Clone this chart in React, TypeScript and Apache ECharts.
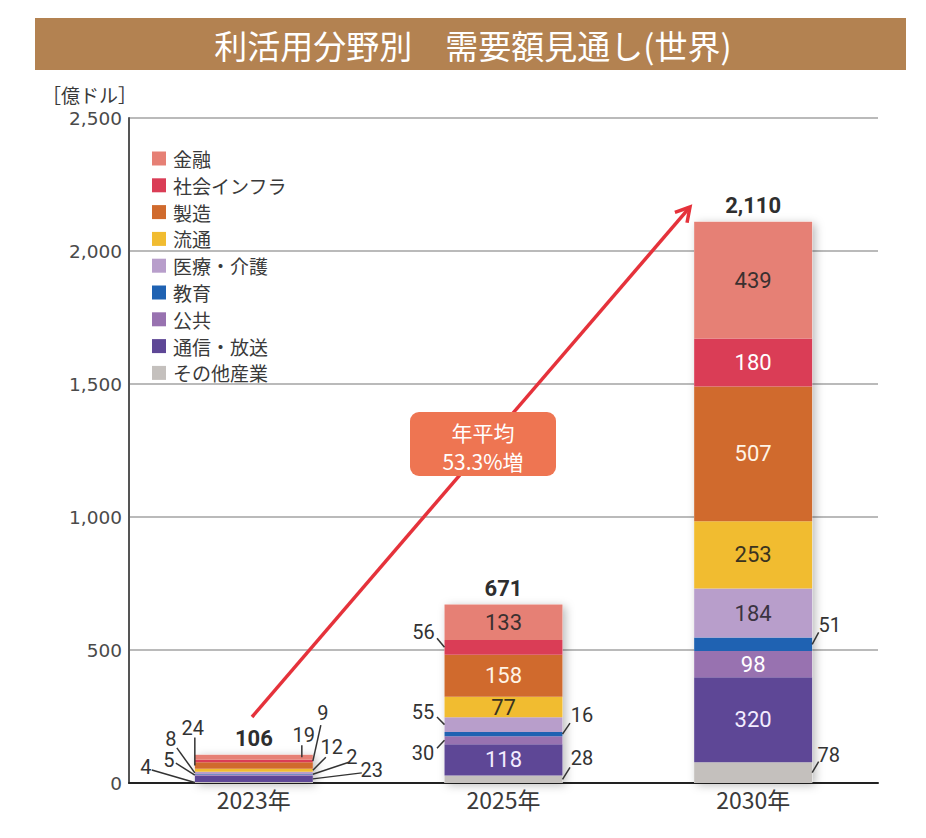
import React, { useEffect, useRef } from 'react';
import * as echarts from 'echarts';

// ---- data ----
const categories = ['2023年', '2025年', '2030年'];
const legendOrder = ['金融', '社会インフラ', '製造', '流通', '医療・介護', '教育', '公共', '通信・放送', 'その他産業'];
const finance = [19, 133, 439];
const socialInfra = [9, 56, 180];
const manufacturing = [24, 158, 507];
const distribution = [12, 77, 253];
const medicalCare = [8, 55, 184];
const education = [2, 16, 51];
const publicSector = [5, 30, 98];
const telecom = [23, 118, 320];
const otherIndustry = [4, 28, 78];
const yTickMin = 0;
const yTickMax = 2500;
const yTickStep = 500;
const growthLines = ['年平均', '53.3%増'];
const titleText = '利活用分野別　需要額見通し(世界)';
const unitText = '［億ドル］';

// ---- series (bottom to top) with styles ----
const stackSeries = [
  { name: 'その他産業', data: otherIndustry, color: '#c4c0bd', labelColor: '#333' },
  { name: '通信・放送', data: telecom, color: '#5e4796', labelColor: '#f3ecff' },
  { name: '公共', data: publicSector, color: '#9872b0', labelColor: '#ffffff' },
  { name: '教育', data: education, color: '#1f62b2', labelColor: '#ffffff' },
  { name: '医療・介護', data: medicalCare, color: '#b89ecb', labelColor: '#3a3340' },
  { name: '流通', data: distribution, color: '#f1bc30', labelColor: '#3a3320' },
  { name: '製造', data: manufacturing, color: '#d06a2d', labelColor: '#fff4e6' },
  { name: '社会インフラ', data: socialInfra, color: '#da3d56', labelColor: '#ffffff' },
  { name: '金融', data: finance, color: '#e68075', labelColor: '#3a3030' },
];

// outside label layout (offsets relative to the bar-edge anchor)
const outsideLabels = [
  { cat: 0, s: 'その他産業', side: 'left', ax: 0, tx: -49, ty: -15.5, lx: -43, ly: -12.5 },
  { cat: 0, s: '公共', side: 'left', ax: 0, tx: -26, ty: -15, lx: -19, ly: -12 },
  { cat: 0, s: '医療・介護', side: 'left', ax: 0, tx: -24, ty: -34, lx: -18, ly: -25 },
  { cat: 0, s: '製造', side: 'left', ax: 0, tx: -2, ty: -37, lx: 0, ly: -28 },
  { cat: 0, s: '金融', side: 'right', ax: -11, tx: 2, ty: -22, lx: 0, ly: -12 },
  { cat: 0, s: '社会インフラ', side: 'right', ax: 0, tx: 10, ty: -48, lx: 8, ly: -36 },
  { cat: 0, s: '流通', side: 'right', ax: 0, tx: 19, ty: -23, lx: 13, ly: -13 },
  { cat: 0, s: '教育', side: 'right', ax: 0, tx: 39, ty: -17, lx: 36, ly: -12 },
  { cat: 0, s: '通信・放送', side: 'right', ax: 0, tx: 59, ty: -9, lx: 49, ly: -6 },
  { cat: 1, s: '社会インフラ', side: 'left', ax: 0, tx: -21, ty: -15, lx: -7.5, ly: -9 },
  { cat: 1, s: '医療・介護', side: 'left', ax: 0, tx: -21.5, ty: -12.6, lx: -7.5, ly: -7.6 },
  { cat: 1, s: '公共', side: 'left', ax: 0, tx: -21.5, ty: 13, lx: -7.5, ly: 8 },
  { cat: 1, s: '教育', side: 'right', ax: 0, tx: 19.5, ty: -19, lx: 7.5, ly: -11 },
  { cat: 1, s: 'その他産業', side: 'right', ax: 0, tx: 19.5, ty: -21, lx: 7.5, ly: -12 },
  { cat: 2, s: '教育', side: 'right', ax: 0, tx: 17.5, ty: -19, lx: 6.5, ly: -12 },
  { cat: 2, s: 'その他産業', side: 'right', ax: 0, tx: 16.5, ty: -18, lx: 6.5, ly: -11 },
];

const BAR_W = 118;
const NUM_FONT = 'Roboto, "Noto Sans", sans-serif';
const JP_FONT = '"Noto Sans CJK JP", "Noto Sans", sans-serif';

const totals = categories.map((_, i) => stackSeries.reduce((a, s) => a + s.data[i], 0));
const isOutside = (cat: number, name: string) => outsideLabels.some((o) => o.cat === cat && o.s === name);

export default function App() {
  const ref = useRef<HTMLDivElement>(null);
  useEffect(() => {
    document.body.style.margin = '0';
    const chart = echarts.init(ref.current!, null, { renderer: 'svg' });

    const series: any[] = [
      {
        name: '合計',
        type: 'bar',
        data: totals,
        barWidth: BAR_W,
        barGap: '-100%',
        z: 1,
        itemStyle: { color: '#ffffff', shadowBlur: 10, shadowColor: 'rgba(0,0,0,0.28)', shadowOffsetX: 3, shadowOffsetY: 2 },
        label: {
          show: true,
          position: 'top',
          distance: 5,
          formatter: (p: any) => Number(p.value).toLocaleString('en-US'),
          fontFamily: NUM_FONT,
          fontWeight: 'bold',
          fontSize: 22,
          color: '#2e2e2e',
        },
        emphasis: { disabled: true },
      },
      ...stackSeries.map((s) => ({
        name: s.name,
        type: 'bar',
        stack: 'total',
        barWidth: BAR_W,
        barGap: '-100%',
        z: 2,
        itemStyle: { color: s.color },
        data: s.data.map((v, i) => ({
          value: v,
          label: { show: !isOutside(i, s.name) && i !== 0 },
        })),
        label: {
          position: 'inside',
          fontFamily: NUM_FONT,
          fontSize: 22,
          color: s.labelColor,
        },
        emphasis: { disabled: true },
      })),
    ];

    const option: any = {
      animation: false,
      grid: { left: 129, right: 48, top: 118, bottom: 55, containLabel: false },
      legend: {
        data: legendOrder,
        orient: 'vertical',
        left: 147,
        top: 144,
        icon: 'rect',
        itemWidth: 14,
        itemHeight: 14,
        itemGap: 7.8,
        selectedMode: false,
        textStyle: { fontFamily: JP_FONT, fontSize: 19, color: '#3a3a3a', padding: [0, 0, 0, 2] },
      },
      xAxis: {
        type: 'category',
        data: categories,
        axisLine: { lineStyle: { color: '#222', width: 2 } },
        axisTick: { show: false },
        axisLabel: { fontFamily: JP_FONT, fontSize: 23, color: '#3a3a3a', margin: 4 },
      },
      yAxis: {
        type: 'value',
        min: yTickMin,
        max: yTickMax,
        interval: yTickStep,
        axisLine: { show: true, lineStyle: { color: '#555', width: 2 } },
        axisTick: { show: false },
        splitLine: { lineStyle: { color: '#a3a3a3', width: 1.5 } },
        axisLabel: {
          fontFamily: '"DejaVu Sans", sans-serif',
          fontSize: 18.5,
          color: '#4a4a4a',
          margin: 7,
          formatter: (v: number) => v.toLocaleString('en-US'),
        },
      },
      series,
    };
    chart.setOption(option);

    const graphics: any[] = [];
    // title bar
    graphics.push({ type: 'rect', shape: { x: 35, y: 18, width: 871, height: 52 }, style: { fill: '#b38251' }, z: 50 });
    graphics.push({
      type: 'text', z: 51,
      style: { text: titleText, x: 473, y: 45, align: 'center', verticalAlign: 'middle', fill: '#ffffff', fontSize: 33, fontFamily: JP_FONT },
    });
    graphics.push({
      type: 'text', z: 51,
      style: { text: unitText, x: 42, y: 94, align: 'left', verticalAlign: 'middle', fill: '#3a3a3a', fontSize: 19, fontFamily: JP_FONT },
    });

    // arrow
    const sx = 252, sy = 717, ex = 690, ey = 207;
    const len = Math.hypot(ex - sx, ey - sy);
    const ux = (ex - sx) / len, uy = (ey - sy) / len;
    const rx = -ux, ry = -uy;
    const hl = 16, c = Math.cos(Math.PI / 6), s = Math.sin(Math.PI / 6);
    const h1 = [ex + hl * (rx * c - ry * s), ey + hl * (rx * s + ry * c)];
    const h2 = [ex + hl * (rx * c + ry * s), ey + hl * (-rx * s + ry * c)];
    graphics.push({ type: 'line', z: 60, shape: { x1: sx, y1: sy, x2: ex - ux * 1.5, y2: ey - uy * 1.5 }, style: { stroke: '#e5323b', lineWidth: 3.5 } });
    graphics.push({ type: 'polyline', z: 60, shape: { points: [h1, [ex, ey], h2] }, style: { stroke: '#e5323b', lineWidth: 3.5, fill: 'none' } });

    // growth box
    graphics.push({ type: 'rect', z: 70, shape: { x: 410, y: 412, width: 146, height: 64, r: 9 }, style: { fill: '#ee7552' } });
    graphics.push({
      type: 'text', z: 71,
      style: { text: growthLines[0], x: 483, y: 432, align: 'center', verticalAlign: 'middle', fill: '#fff', fontSize: 21, fontFamily: JP_FONT },
    });
    graphics.push({
      type: 'text', z: 71,
      style: { text: growthLines[1], x: 483, y: 461, align: 'center', verticalAlign: 'middle', fill: '#fff', fontSize: 21, fontFamily: JP_FONT },
    });

    // outside labels with leader lines
    outsideLabels.forEach((o) => {
      const idx = stackSeries.findIndex((ss) => ss.name === o.s);
      let below = 0;
      for (let k = 0; k < idx; k++) below += stackSeries[k].data[o.cat];
      const v = stackSeries[idx].data[o.cat];
      const pt = chart.convertToPixel({ gridIndex: 0 }, [o.cat, below + v / 2]) as number[];
      const axp = pt[0] + (o.side === 'left' ? -BAR_W / 2 : BAR_W / 2) + o.ax;
      const ayp = pt[1];
      graphics.push({
        type: 'line', z: 80,
        shape: { x1: axp + o.lx, y1: ayp + o.ly, x2: axp, y2: ayp },
        style: { stroke: '#333', lineWidth: 1.5 },
      });
      graphics.push({
        type: 'text', z: 81,
        style: {
          text: String(v), x: axp + o.tx, y: ayp + o.ty, align: 'center', verticalAlign: 'middle',
          fill: '#333', fontSize: 20, fontFamily: NUM_FONT,
        },
      });
    });

    chart.setOption({ graphic: graphics });
    return () => chart.dispose();
  }, []);
  return <div ref={ref} style={{ width: 926, height: 838 }} />;
}
